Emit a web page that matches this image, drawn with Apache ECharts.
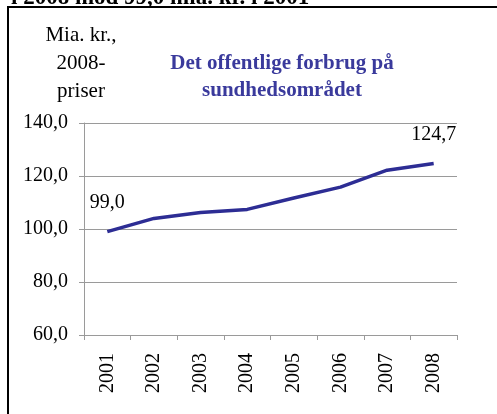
<!DOCTYPE html>
<html>
<head>
<meta charset="utf-8">
<script src="https://cdn.jsdelivr.net/npm/echarts@6/dist/echarts.min.js"></script>
<style>
  html, body { margin: 0; padding: 0; background: #fff; }
  #chart { width: 497px; height: 414px; }
</style>
</head>
<body>
<div id="chart"></div>
<script>
// years and public health spending, bn. DKK in 2008 prices
const years = ['2001', '2002', '2003', '2004', '2005', '2006', '2007', '2008']
const spending = [99.0, 104.0, 106.2, 107.4, 111.7, 115.8, 122.2, 124.7]
const labelled = [0, 7] // only first and last point get a label

const serif = '"Liberation Serif", "DejaVu Serif", serif'
const comma = v => v.toFixed(1).replace('.', ',')

const chart = echarts.init(document.getElementById('chart'))

chart.setOption({
  animation: false,
  title: {
    text: 'Det offentlige forbrug på\nsundhedsområdet',
    left: 277,
    top: 45,
    textAlign: 'center',
    textStyle: {
      fontFamily: serif,
      fontSize: 21,
      fontWeight: 'bold',
      color: '#3a3a9c',
      lineHeight: 27
    }
  },
  graphic: [
    {
      type: 'text',
      left: 11,
      top: -13,
      style: {
        text: 'i 2008 mod 99,0 mia. kr. i 2001',
        font: 'bold 23px ' + serif,
        fill: '#000'
      }
    },
    {
      type: 'polyline',
      shape: { points: [[8, 414], [8, 7], [497, 7]] },
      style: { stroke: '#000', lineWidth: 2, fill: null }
    }
  ],
  grid: {
    left: 84,
    right: 40,
    top: 123,
    bottom: 79
  },
  xAxis: {
    type: 'category',
    data: years,
    boundaryGap: true,
    axisLine: { lineStyle: { color: '#9a9a9a' } },
    axisTick: { show: true, length: 5, lineStyle: { color: '#9a9a9a' } },
    axisLabel: {
      rotate: 90,
      margin: 18,
      fontFamily: serif,
      fontSize: 20,
      color: '#000'
    }
  },
  yAxis: {
    type: 'value',
    min: 60,
    max: 140,
    interval: 20,
    name: 'Mia. kr.,\n2008-\npriser',
    nameLocation: 'end',
    nameGap: 18,
    nameTextStyle: {
      fontFamily: serif,
      fontSize: 21,
      color: '#000',
      lineHeight: 28,
      align: 'center',
      verticalAlign: 'bottom',
      padding: [0, 6, 0, 0]
    },
    axisLine: { show: true, lineStyle: { color: '#9a9a9a' } },
    axisTick: { show: true, length: 5, lineStyle: { color: '#9a9a9a' } },
    splitLine: { lineStyle: { color: '#9a9a9a' } },
    axisLabel: {
      margin: 16,
      fontFamily: serif,
      fontSize: 20,
      color: '#000',
      formatter: comma
    }
  },
  series: [
    {
      type: 'line',
      data: spending,
      showSymbol: true,
      symbol: 'circle',
      symbolSize: 1,
      itemStyle: { color: 'rgba(0,0,0,0)' },
      lineStyle: { color: '#2d2d94', width: 3.5 },
      label: {
        show: true,
        position: 'top',
        distance: 18,
        fontFamily: serif,
        fontSize: 20,
        color: '#000',
        formatter: p => labelled.includes(p.dataIndex) ? comma(p.value) : ''
      }
    }
  ]
})
</script>
</body>
</html>
